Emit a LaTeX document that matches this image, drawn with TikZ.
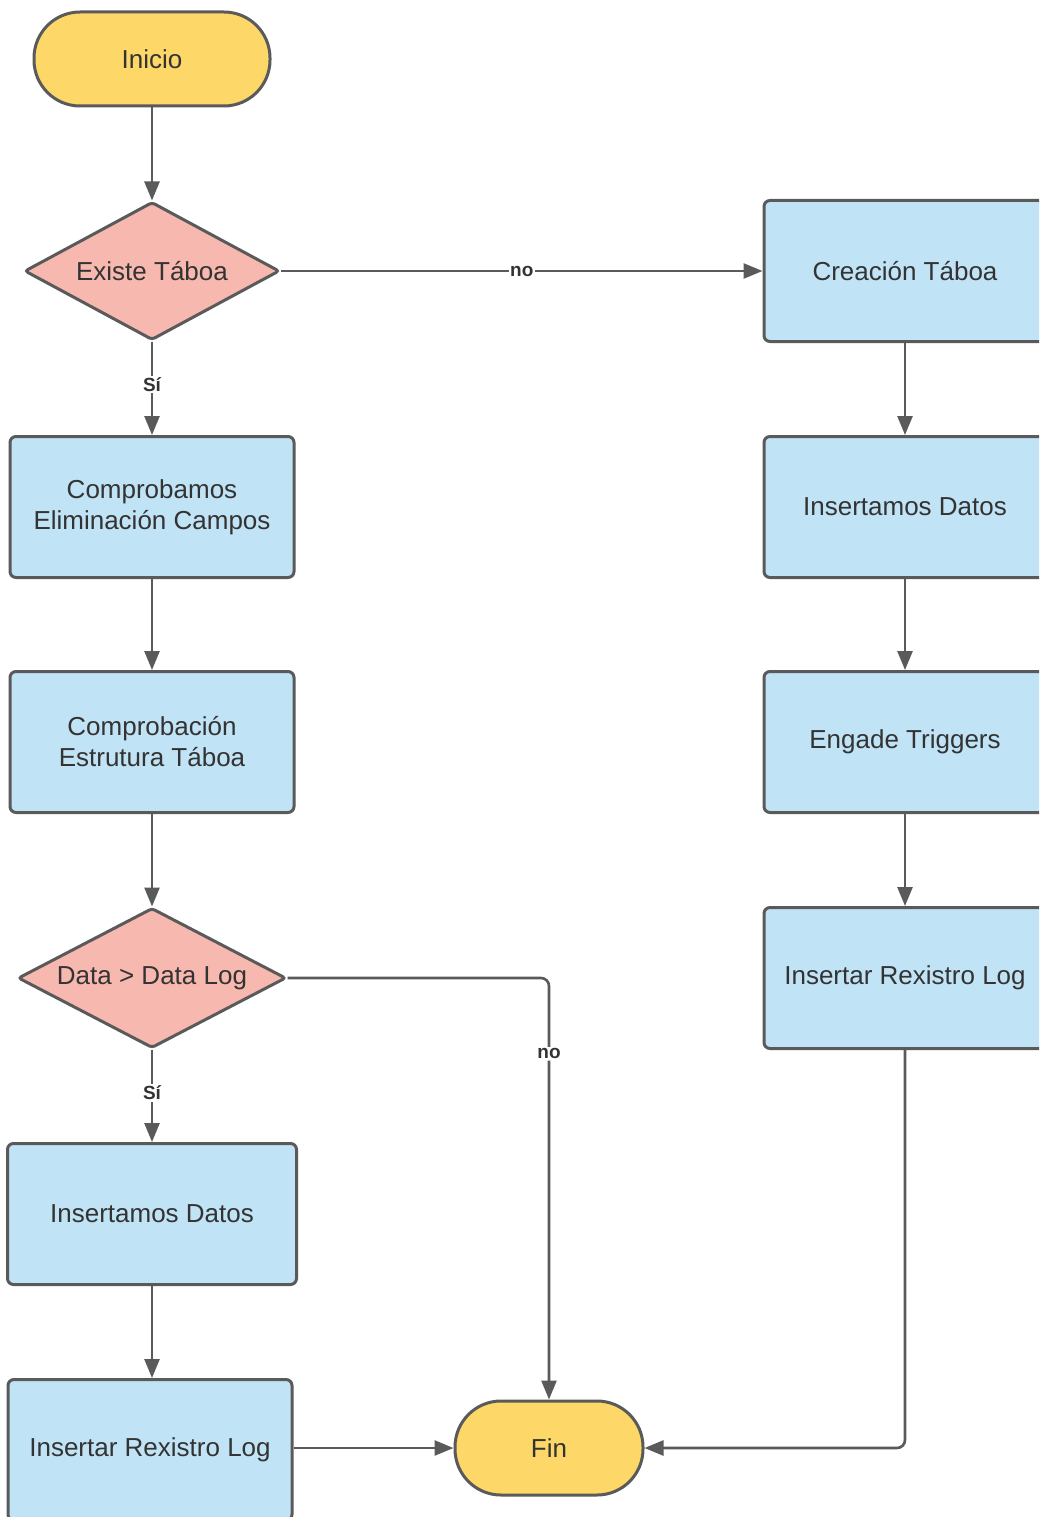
\documentclass[tikz,border=0pt]{standalone}
\usepackage{fontspec}
\setmainfont{Liberation Sans}
\usetikzlibrary{arrows.meta,shapes.geometric}
\definecolor{strokec}{HTML}{5A5A5A}
\definecolor{termfill}{HTML}{FDD868}
\definecolor{decfill}{HTML}{F7B8B0}
\definecolor{procfill}{HTML}{C1E3F6}
\definecolor{txtc}{HTML}{333333}
\tikzset{
  base/.style={draw=strokec, line width=3pt, text=txtc, font=\fontsize{26}{31}\selectfont, align=center, inner sep=0pt},
  term/.style={base, fill=termfill, rounded corners=46pt, minimum height=94pt},
  dec/.style={base, fill=decfill, shape=diamond, shape aspect=1.9, rounded corners=3pt},
  proc/.style={base, fill=procfill, rectangle, rounded corners=6pt, minimum height=141pt},
  conn/.style={draw=strokec, line width=2.6pt, -{Triangle[length=19pt,width=15pt]}},
  lbl/.style={fill=white, text=txtc, font=\bfseries\fontsize{19}{22}\selectfont, inner sep=1.5pt}
}
\begin{document}
\begin{tikzpicture}[x=1pt,y=-1pt]
\useasboundingbox (0,0) rectangle (1039,1517);
\clip (0,0) rectangle (1039,1517);
\fill[white] (0,0) rectangle (1039,1517);
% left column
\node[term, minimum width=236pt] (start) at (152,59) {Inicio};
\node[dec, minimum width=255pt, minimum height=138pt] (d1) at (152,271) {Existe Táboa};
\node[proc, minimum width=284pt] (l1) at (152,507) {Comprobamos\\Eliminación Campos};
\node[proc, minimum width=284pt] (l2) at (152,742) {Comprobación\\Estrutura Táboa};
\node[dec, minimum width=268pt, minimum height=140pt] (d2) at (152,978) {Data > Data Log};
\node[proc, minimum width=289pt] (l3) at (152,1214) {Insertamos Datos};
\node[proc, minimum width=284pt] (l4) at (150,1450) {Insertar Rexistro Log};
\node[term, minimum width=188pt] (fin) at (549,1448) {Fin};
% right column
\node[proc, minimum width=282pt] (r1) at (905,271) {Creación Táboa};
\node[proc, minimum width=282pt] (r2) at (905,507) {Insertamos Datos};
\node[proc, minimum width=282pt] (r3) at (905,742) {Engade Triggers};
\node[proc, minimum width=282pt] (r4) at (905,978) {Insertar Rexistro Log};
% connectors
\draw[conn] (start) -- (d1);
\draw[conn] (d1) -- node[lbl, pos=0.46] {Sí} (l1);
\draw[conn] (d1) -- node[lbl, pos=0.5] {no} (r1);
\draw[conn] (l1) -- (l2);
\draw[conn] (l2) -- (d2);
\draw[conn] (d2) -- node[lbl, pos=0.47] {Sí} (l3);
\draw[conn] (l3.south) -- (l3.south |- l4.north);
\draw[conn] (l4.east |- fin.west) -- (fin.west);
\draw[conn, rounded corners=8pt] (d2.east) -| node[lbl, pos=0.59] {no} (fin.north);
\draw[conn] (r1) -- (r2);
\draw[conn] (r2) -- (r3);
\draw[conn] (r3) -- (r4);
\draw[conn, rounded corners=8pt] (r4.south) |- (fin.east);
\end{tikzpicture}
\end{document}
